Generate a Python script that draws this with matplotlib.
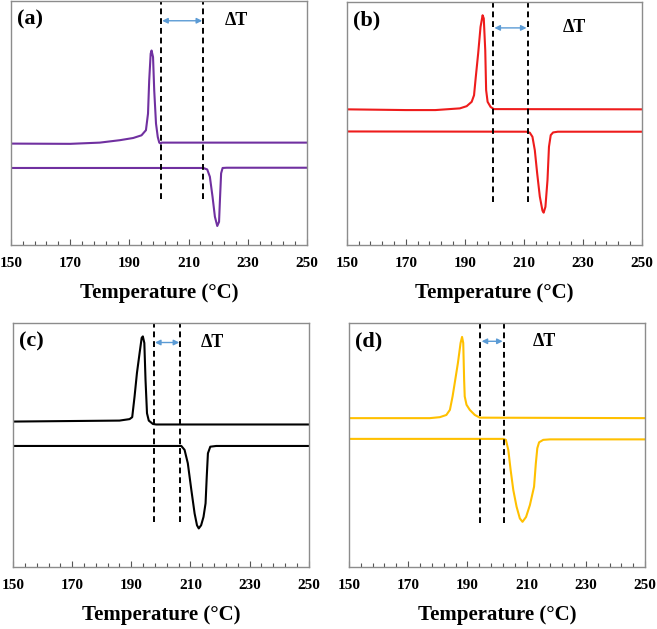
import matplotlib
matplotlib.use("Agg")
import matplotlib.pyplot as plt
from matplotlib.ticker import FixedLocator

plt.rcParams['font.family'] = ['Liberation Serif', 'DejaVu Serif']
plt.rcParams['font.weight'] = 'bold'

major_ticks = [150, 170, 190, 210, 230, 250]
minor_ticks = list(range(150, 251, 4))

# (a) purple
a_cool_t = [150, 170, 180, 186.8, 191.3, 194.1, 195.6, 196.3, 196.7, 197.2, 197.5, 198.0, 198.4, 199.0, 199.6, 200.1, 200.6, 200.9, 250]
a_cool_y = [41.6, 41.5, 42.0, 43.0, 43.9, 45.0, 47.1, 53.9, 67.5, 78.5, 79.8, 77.1, 63.4, 49.8, 44.3, 42.0, 41.6, 42.0, 42.0]
a_heat_t = [150, 215.0, 216.3, 217.2, 218.1, 218.9, 219.7, 220.3, 220.6, 221.0, 221.5, 222.9, 250]
a_heat_y = [31.6, 31.6, 31.0, 28.0, 19.8, 11.6, 7.8, 9.5, 18.4, 29.4, 31.6, 31.7, 31.7]
a_lines = [200.7, 215.0]

# (b) red
b_cool_t = [150, 170, 180, 188.3, 190.6, 192.3, 193.1, 193.7, 194.5, 195.3, 196.0, 196.4, 196.9, 197.2, 197.7, 198.7, 199.8, 250]
b_cool_y = [55.8, 55.5, 55.5, 56.2, 57.1, 58.9, 61.6, 69.2, 78.8, 89.7, 94.5, 93.2, 80.1, 63.7, 58.9, 56.8, 55.9, 55.8]
b_heat_t = [150, 210.9, 212.0, 212.9, 213.7, 214.5, 215.4, 216.3, 216.7, 217.3, 218.0, 218.5, 219.1, 219.9, 221.5, 250]
b_heat_y = [46.7, 46.6, 46.2, 44.5, 39.0, 29.5, 19.9, 14.1, 13.3, 15.7, 26.7, 40.4, 45.2, 46.3, 46.6, 46.6]
b_lines = [199.6, 211.3]

# (c) black
c_cool_t = [150, 186.0, 189.4, 190.3, 191.1, 191.9, 192.8, 193.5, 193.9, 194.4, 194.8, 195.3, 195.9, 197.3, 198.4, 250]
c_cool_y = [59.6, 60.0, 60.6, 61.4, 69.9, 79.5, 87.7, 93.9, 94.5, 91.8, 76.7, 63.0, 60.0, 58.6, 58.4, 58.4]
c_heat_t = [150, 206.9, 208.0, 209.1, 210.3, 211.4, 212.2, 212.8, 213.6, 214.4, 215.1, 215.5, 215.9, 216.7, 218.7, 250]
c_heat_y = [49.6, 49.6, 48.0, 42.5, 31.5, 21.9, 17.1, 15.8, 17.1, 20.5, 26.1, 37.0, 46.6, 49.3, 49.6, 49.6]
c_lines = [197.6, 206.6]

# (d) yellow
d_cool_t = [150, 177.3, 180.7, 182.9, 184.1, 185.0, 185.9, 186.8, 187.7, 188.2, 188.6, 188.9, 189.1, 189.7, 190.8, 192.5, 194.2, 250]
d_cool_y = [61.0, 61.0, 61.4, 62.3, 64.4, 69.9, 76.7, 83.6, 91.8, 94.3, 91.8, 76.7, 69.9, 66.5, 64.4, 62.3, 61.2, 61.0]
d_heat_t = [150, 202.1, 203.0, 203.8, 204.6, 205.5, 206.6, 207.7, 208.6, 209.8, 211.1, 212.5, 213.1, 213.6, 214.2, 215.6, 217.9, 250]
d_heat_y = [52.5, 52.5, 52.1, 48.0, 39.7, 31.5, 24.7, 19.9, 18.5, 20.5, 25.4, 32.9, 42.5, 48.7, 51.1, 52.1, 52.3, 52.3]
d_lines = [194.4, 202.3]

panels = [
    ("(a)", "#7030a0", a_cool_t, a_cool_y, a_heat_t, a_heat_y, a_lines, 18.7, 92.0, 226.0,
     [0.0167, 0.6105, 0.4505, 0.3875]),
    ("(b)", "#ee1c1c", b_cool_t, b_cool_y, b_heat_t, b_heat_y, b_lines, 17.8, 89.3, 227.0,
     [0.528, 0.6105, 0.449, 0.3865]),
    ("(c)", "#000000", c_cool_t, c_cool_y, c_heat_t, c_heat_y, c_lines, 18.5, 92.0, 217.5,
     [0.0198, 0.0986, 0.4502, 0.3879]),
    ("(d)", "#ffc000", d_cool_t, d_cool_y, d_heat_t, d_heat_y, d_lines, 18.1, 92.5, 216.0,
     [0.531, 0.0986, 0.451, 0.3879]),
]

fig = plt.figure(figsize=(6.57, 6.29), dpi=100)

for lab, col, ct, cy, ht, hy, vl, vbot, arr_y, dt_x, rect in panels:
    ax = fig.add_axes(rect)
    ax.plot(ct, cy, color=col, lw=1.5, solid_joinstyle='round')
    ax.plot(ht, hy, color=col, lw=1.5, solid_joinstyle='round')
    for v in vl:
        ax.plot([v, v], [vbot, 100], color='black', lw=1.4, ls=(0, (3, 2)))
    ax.annotate("", xy=(vl[1] - 0.4, arr_y), xytext=(vl[0] + 0.4, arr_y),
                arrowprops=dict(arrowstyle='<|-|>', color='#5b9bd5', lw=1.0,
                                mutation_scale=8, shrinkA=0, shrinkB=0))
    ax.text(dt_x, arr_y, "ΔT", fontsize=13, fontweight='bold', ha='center', va='center')
    ax.text(0.02, 0.925, lab, transform=ax.transAxes, fontsize=16, fontweight='bold',
            ha='left', va='center')
    ax.set_xlim(150, 250)
    ax.set_ylim(0, 100)
    ax.xaxis.set_major_locator(FixedLocator(major_ticks))
    ax.xaxis.set_minor_locator(FixedLocator(minor_ticks))
    ax.tick_params(axis='x', which='major', direction='in', length=4, width=0.8,
                   color='#555555', labelsize=11, pad=9)
    ax.tick_params(axis='x', which='minor', direction='in', length=3, width=0.8, color='#555555')
    ax.set_yticks([])
    for s in ax.spines.values():
        s.set_color('#8c8c8c')
        s.set_linewidth(1.0)
    for t in ax.get_xticklabels():
        t.set_fontweight('bold')
    ax.set_xlabel("Temperature (°C)", fontsize=15, fontweight='bold', labelpad=9)

fig.savefig("out.png", dpi=100)
